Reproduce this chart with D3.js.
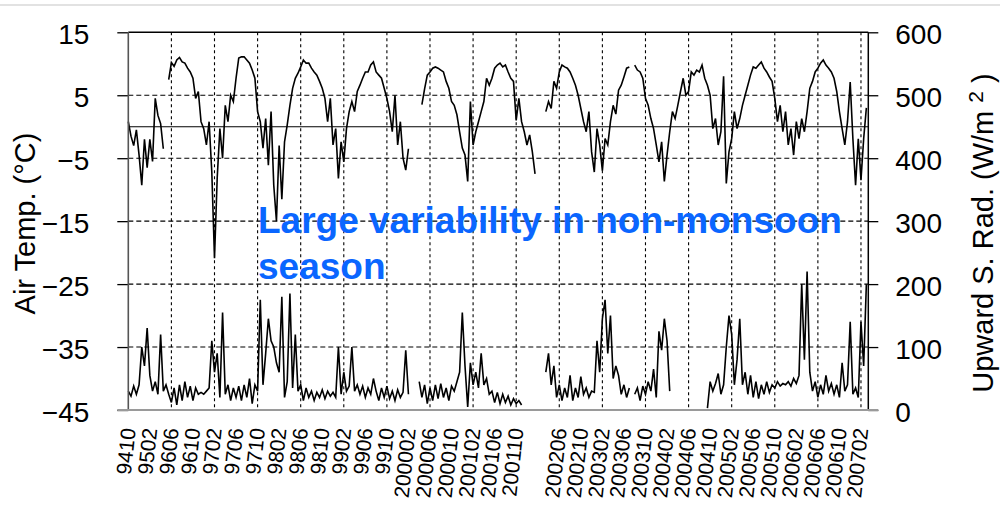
<!DOCTYPE html>
<html><head><meta charset="utf-8">
<script src="https://cdn.jsdelivr.net/npm/d3@7"></script>
<style>body{margin:0;background:#fff}svg{display:block}</style>
</head><body><svg id="c" width="1000" height="507"></svg>
<script>
// ---------- data ----------
const xLabels = ["9410","9502","9606","9610","9702","9706","9710","9802","9806","9810",
  "9902","9906","9910","200002","200006","200010","200102","200106","200110","",
  "200206","200210","200302","200306","200310","200402","200406","200410","200502","200506",
  "200510","200602","200606","200610","200702"];
const gridLabelIdx = [2,4,6,8,10,12,14,16,18,20,22,24,26,28,30,32,34];
const tempTicks = [-45,-35,-25,-15,-5,5,15];
const radTicks = [0,100,200,300,400,500,600];
const STEP = 0.125; // label units per sample
const airTemp = [
 0.8,-1.5,-3.0,-0.5,-4.5,-9.3,-2.0,-6.5,-2.0,-5.5,
 4.5,1.8,0.5,-3.5,null,7.5,10.2,9.6,10.6,11.0,
 10.3,10.1,9.3,8.7,7.7,4.5,5.6,0.8,-0.3,-2.9,
 0.8,-7.2,-20.9,-8.2,-0.3,-5.0,3.4,0.8,5.0,4.0,
 7.7,10.9,11.1,11.1,10.6,10.1,9.0,7.7,2.4,0.8,
 -3.4,1.3,-6.1,2.4,-9.3,-15.0,-3.0,-11.5,-2.4,0.3,
 3.4,6.1,7.7,8.5,9.5,10.6,10.1,10.1,9.3,8.7,
 8.2,7.2,6.1,4.5,0.8,4.5,-2.9,-0.3,-8.2,-2.4,
 -5.6,-0.3,2.4,4.0,2.4,5.6,6.6,7.7,8.7,8.7,
 9.8,10.3,8.7,8.2,7.7,6.1,4.5,2.4,-0.8,5.0,
 -2.9,0.8,-5.0,-6.9,-3.5,null,null,null,null,3.5,
 6.0,8.2,8.7,9.3,9.5,9.3,9.0,8.7,7.2,6.1,
 4.0,3.4,1.9,-0.8,-3.4,-4.5,-8.7,4.0,-2.9,-0.8,
 0.8,2.4,4.0,7.7,6.6,7.7,9.3,9.8,10.1,9.5,
 9.8,8.7,7.7,7.2,1.0,4.5,0.8,-0.8,-2.9,-1.3,
 -4.0,-7.5,null,null,null,2.4,4.0,2.9,7.2,6.1,
 8.7,9.8,9.5,9.3,8.7,7.7,6.6,5.0,2.9,0.8,
 -0.8,2.4,-4.0,-7.2,-0.3,-2.9,-7.0,-1.9,-2.9,0.8,
 3.4,2.0,5.8,6.6,7.9,9.3,9.5,null,9.8,9.0,
 8.7,7.7,4.5,3.4,1.3,-0.3,-2.9,-5.6,-2.4,-8.7,
 -4.5,-0.8,2.4,1.3,3.4,5.6,7.7,5.0,5.6,8.7,
 8.2,9.0,8.7,9.8,7.7,6.6,5.0,-0.3,1.3,-2.9,
 -0.8,8.0,-9.0,-4.0,-1.9,2.4,-0.3,1.3,3.4,5.0,
 6.6,8.2,9.5,9.3,9.8,10.3,9.3,8.7,7.9,7.2,
 4.5,0.8,3.4,-0.8,2.4,-2.9,-0.3,-4.5,0.8,-1.9,
 1.3,-0.8,2.4,6.1,7.2,8.7,9.3,10.1,10.6,9.8,
 9.3,8.7,7.7,5.6,2.4,-0.3,-2.9,0.8,7.1,-1.9,
 -9.3,-1.9,-8.5,-1.9,3.0
];
const upwardRad = [
 30,22,38,25,40,100,70,130,55,30,
 45,25,120,30,40,25,12,35,8,40,
 15,45,20,38,15,35,25,28,25,30,
 35,110,60,90,20,155,25,40,15,35,
 20,38,15,40,20,50,10,40,30,175,
 40,90,145,110,100,75,60,180,20,45,
 185,35,120,30,40,15,35,20,30,15,
 28,20,32,18,30,22,28,20,100,25,
 60,30,38,100,30,40,25,38,20,35,
 25,50,30,15,35,20,38,18,30,15,
 32,20,28,95,25,null,null,null,45,20,
 40,10,35,15,40,18,42,20,35,15,
 38,30,45,60,155,70,5,75,40,60,
 35,90,40,50,25,30,12,28,10,25,
 12,22,8,18,10,15,8,null,null,null,
 null,null,null,null,null,60,90,40,70,20,
 40,15,35,20,55,15,35,20,53,25,
 35,20,30,28,110,60,145,175,90,150,
 50,70,55,25,40,20,35,null,25,35,
 15,38,25,45,30,65,20,125,95,145,
 110,30,null,null,null,null,null,null,null,null,
 null,null,null,null,null,3,45,30,42,58,
 25,40,100,150,120,40,80,145,40,60,
 25,55,20,45,18,40,25,45,28,40,
 35,45,38,42,40,45,38,50,42,55,
 200,80,220,60,30,45,20,40,25,55,
 30,42,25,40,20,75,30,40,140,25,
 35,20,140,70,200
];
const noteLines = ["Large variability in non-monsoon","season"];

// ---------- layout ----------
const svg = d3.select("#c");
const L = 128.3, R = 868.3, T = 32.3, B = 410;
const x = d3.scaleLinear().domain([0, 34.34]).range([L, R]);
const yT = d3.scaleLinear().domain([-45, 15]).range([B, T]);
const yR = d3.scaleLinear().domain([0, 600]).range([B, T]);
const FONT = "'Liberation Sans', Arial, sans-serif";

// light separator at top of the slide
svg.append("line").attr("x1",0).attr("x2",1000).attr("y1",5).attr("y2",5)
  .attr("stroke","#e2e2e2").attr("stroke-width",2);

// horizontal dashed grid
svg.append("g").selectAll("line").data(tempTicks.filter(d => d > -45 && d < 15)).join("line")
  .attr("x1", L).attr("x2", R).attr("y1", d => yT(d)).attr("y2", d => yT(d))
  .attr("stroke", "#000").attr("stroke-width", 1.1).attr("stroke-dasharray", "5,3");
// vertical dotted grid
svg.append("g").selectAll("line").data(gridLabelIdx).join("line")
  .attr("x1", d => x(d)).attr("x2", d => x(d)).attr("y1", T).attr("y2", B)
  .attr("stroke", "#000").attr("stroke-width", 1.1).attr("stroke-dasharray", "3,3");
// zero line
svg.append("line").attr("x1", L).attr("x2", R).attr("y1", yT(0)).attr("y2", yT(0))
  .attr("stroke", "#000").attr("stroke-width", 1.2);

// series
const tPts = airTemp.map((v, i) => [i * STEP, v]);
const rPts = upwardRad.map((v, i) => [i * STEP, v]);
const lineT = d3.line().defined(d => d[1] != null).x(d => x(d[0])).y(d => yT(d[1]));
const lineR = d3.line().defined(d => d[1] != null).x(d => x(d[0])).y(d => yR(d[1]));
svg.append("path").attr("d", lineT(tPts)).attr("fill","none").attr("stroke","#000")
  .attr("stroke-width",1.6).attr("stroke-linejoin","miter");
svg.append("path").attr("d", lineR(rPts)).attr("fill","none").attr("stroke","#000")
  .attr("stroke-width",1.6).attr("stroke-linejoin","miter");

// axes
const fmt = d => d < 0 ? "\u2212" + Math.abs(d) : String(d);
const gL = svg.append("g").attr("transform", `translate(${L},0)`)
  .call(d3.axisLeft(yT).tickValues(tempTicks).tickSize(11).tickPadding(28).tickFormat(fmt));
const gR = svg.append("g").attr("transform", `translate(${R},0)`)
  .call(d3.axisRight(yR).tickValues(radTicks).tickSize(10).tickPadding(17));
[gL, gR].forEach(g => {
  g.select(".domain").remove();
  g.selectAll(".tick line").attr("stroke", "#000").attr("stroke-width", 1.3);
  g.selectAll(".tick text").attr("font-family", FONT).attr("font-size", 28)
    .attr("fill", "#000").attr("dy", "0.4em");
});
// frame
svg.append("line").attr("x1", L).attr("x2", R).attr("y1", T).attr("y2", T)
  .attr("stroke", "#000").attr("stroke-width", 1.5);
svg.append("line").attr("x1", R).attr("x2", R).attr("y1", T).attr("y2", B)
  .attr("stroke", "#000").attr("stroke-width", 1.5);
svg.append("line").attr("x1", L).attr("x2", L).attr("y1", T).attr("y2", B)
  .attr("stroke", "#555").attr("stroke-width", 1.6);
svg.append("line").attr("x1", L - 11).attr("x2", R + 10).attr("y1", B).attr("y2", B)
  .attr("stroke", "#9a9a9a").attr("stroke-width", 2.2);

// x labels
svg.append("g").selectAll("text").data(xLabels.map((t, i) => ({t, i})).filter(d => d.t))
  .join("text")
  .attr("transform", d => `translate(${x(d.i)},428) rotate(-84)`)
  .attr("text-anchor", "end").attr("dy", "0.35em")
  .attr("font-family", FONT).attr("font-size", 21).attr("fill", "#000")
  .text(d => d.t);

// axis titles
svg.append("text").attr("transform", "translate(35,223.5) rotate(-90)")
  .attr("text-anchor", "middle").attr("font-family", FONT).attr("font-size", 29)
  .attr("fill", "#000").text("Air Temp. (°C)");
const rt = svg.append("text").attr("transform", "translate(993,233) rotate(-90)")
  .attr("text-anchor", "middle").attr("font-family", FONT).attr("font-size", 29)
  .attr("fill", "#000");
rt.append("tspan").text("Upward S. Rad. (W/m ");
rt.append("tspan").attr("dy", "-0.5em").attr("font-size", 21).text("2");
rt.append("tspan").attr("dy", "0.36em").text(" )");

// annotation
svg.append("g").selectAll("text").data(noteLines).join("text")
  .attr("x", 258).attr("y", (d, i) => 233 + i * 46)
  .attr("font-family", FONT).attr("font-weight", "bold").attr("font-size", 37)
  .attr("fill", "#0a66ff").text(d => d);
</script>
</body></html>
